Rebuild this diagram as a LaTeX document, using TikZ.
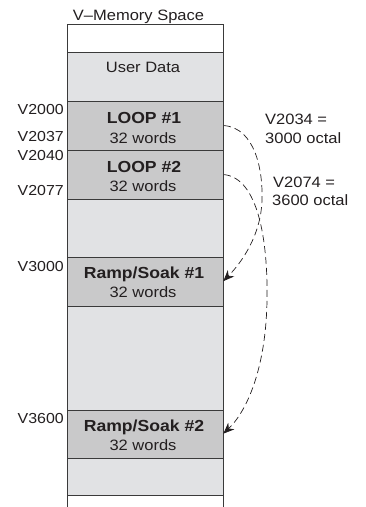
\documentclass[tikz,border=0pt]{standalone}
\usepackage{fontspec}
\setmainfont{Liberation Sans}[FakeStretch=1.1]
\usepackage{xcolor}
\definecolor{ink}{HTML}{231F20}
\definecolor{edge}{HTML}{3A3A3A}
\definecolor{cellLight}{HTML}{E1E2E4}
\definecolor{cellDark}{HTML}{C9C9CA}
\usetikzlibrary{arrows.meta, positioning}

\begin{document}
\begin{tikzpicture}[x=1pt, y=-1pt, >={Stealth[length=11pt, width=9pt, inset=3.5pt]},
  cell/.style={draw=edge, line width=0.9pt, minimum width=156pt,
               anchor=north west, inner sep=0pt, outer sep=0pt},
  txt/.style={font=\fontsize{15}{17}\selectfont, text=ink, inner sep=0pt, anchor=base},
  title/.style={font=\fontsize{16}{18}\selectfont\bfseries, text=ink, inner sep=0pt, anchor=base},
  addr/.style={font=\fontsize{14.5}{17}\selectfont, text=ink, inner sep=0pt, anchor=base east},
  note/.style={font=\fontsize{15}{17}\selectfont, text=ink, inner sep=0pt, anchor=base west},
  link/.style={->, dash pattern=on 7pt off 4pt, line width=0.7pt, ink,
               shorten <=1pt, shorten >=0.5pt}]

  \useasboundingbox (0,0) rectangle (365,507);

  % memory column
  \node[cell, fill=white,     minimum height=28pt]  (top)      at (67,24)  {};
  \node[cell, fill=cellLight, minimum height=49pt]  (userdata) at (67,52)  {};
  \node[cell, fill=cellDark,  minimum height=49pt]  (loop1)    at (67,101) {};
  \node[cell, fill=cellDark,  minimum height=49pt]  (loop2)    at (67,150) {};
  \node[cell, fill=cellLight, minimum height=58pt]  (gap1)     at (67,199) {};
  \node[cell, fill=cellDark,  minimum height=49pt]  (ramp1)    at (67,257) {};
  \node[cell, fill=cellLight, minimum height=104pt] (gap2)     at (67,306) {};
  \node[cell, fill=cellDark,  minimum height=48pt]  (ramp2)    at (67,410) {};
  \node[cell, fill=cellLight, minimum height=37pt]  (gap3)     at (67,458) {};
  \coordinate (tailL) at (67,507);
  \coordinate (tailR) at (223,507);
  \draw[edge, line width=0.9pt] (gap3.south west) -- (tailL);
  \draw[edge, line width=0.9pt] (gap3.south east) -- (tailR);

  \node[txt] (heading) at (138.5,20.5) {V–Memory Space};

  % block texts
  \node[txt]   (userdatatxt) at (143,72.5) {User Data};
  \node[title] (loop1txt)  at (144,123) {LOOP \#1};
  \node[txt]   (loop1len)  at (143,143) {32 words};
  \node[title] (loop2txt)  at (144,172) {LOOP \#2};
  \node[txt]   (loop2len)  at (143,191.5) {32 words};
  \node[title] (ramp1txt)  at (144,278) {Ramp/Soak \#1};
  \node[txt]   (ramp1len)  at (143,297) {32 words};
  \node[title] (ramp2txt)  at (144,431.5) {Ramp/Soak \#2};
  \node[txt]   (ramp2len)  at (143,450) {32 words};

  % addresses
  \node[addr] (a2000) at (64,114) {V2000};
  \node[addr] (a2037) at (64,141.5) {V2037};
  \node[addr] (a2040) at (64,160.5) {V2040};
  \node[addr] (a2077) at (64,195) {V2077};
  \node[addr] (a3000) at (64,271.5) {V3000};
  \node[addr] (a3600) at (64,423) {V3600};

  % pointer notes
  \node[note] (ptr1a) at (265,124) {V2034 =};
  \node[note] (ptr1b) at (265,143) {3000 octal};
  \node[note] (ptr2a) at (273,187) {V2074 =};
  \node[note] (ptr2b) at (272,205) {3600 octal};

  \draw[link] (loop1.east) .. controls (255,128) and (263,170) .. (262,200)
                           .. controls (261,235) and (242,262) .. (ramp1.east);
  \draw[link] (loop2.east) .. controls (258,178) and (268,240) .. (267,300)
                           .. controls (266,370) and (246,412) .. (ramp2.east);

\end{tikzpicture}
\end{document}
